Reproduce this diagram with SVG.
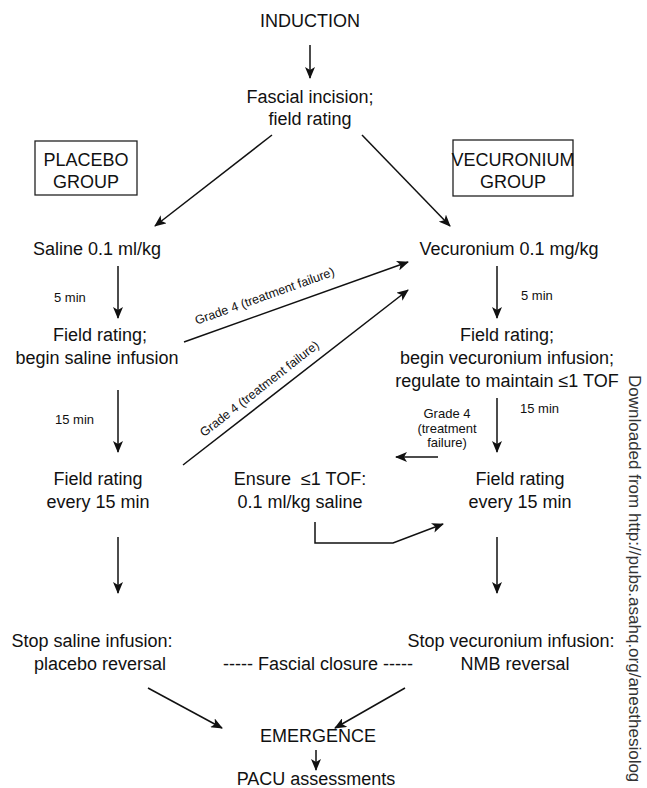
<svg xmlns="http://www.w3.org/2000/svg" width="647" height="788" viewBox="0 0 647 788">
<style>
text{font-family:"Liberation Sans",Arial,sans-serif;fill:#111}
.t{font-size:18px;text-anchor:middle}
.s{font-size:13px}
.g{font-size:12.5px;text-anchor:middle}
.d{font-size:13px;text-anchor:middle}
.c line,.c path{stroke:#111;stroke-width:1.5;fill:none}
.box{fill:none;stroke:#222;stroke-width:1.3}
</style>
<defs>
<marker id="ah" viewBox="0 0 12 10" refX="11" refY="5" markerWidth="12" markerHeight="10" markerUnits="userSpaceOnUse" orient="auto">
<path d="M0,0 L12,5 L0,10 L3,5 Z" fill="#111"/>
</marker>
</defs>
<rect width="647" height="788" fill="#fff"/>

<g id="induction"><text class="t" x="310" y="27">INDUCTION</text></g>
<g id="incision"><text class="t" x="310" y="103">Fascial incision;</text><text class="t" x="310" y="125">field rating</text></g>
<g id="placebo-group"><rect class="box" x="35" y="141" width="102" height="54"/><text class="t" x="86" y="166">PLACEBO</text><text class="t" x="86" y="188">GROUP</text></g>
<g id="vecuronium-group"><rect class="box" x="453" y="140" width="120" height="56"/><text class="t" x="513" y="166">VECURONIUM</text><text class="t" x="513" y="188">GROUP</text></g>
<g id="saline"><text class="t" x="97" y="255">Saline 0.1 ml/kg</text></g>
<g id="vecuronium"><text class="t" x="509" y="255">Vecuronium 0.1 mg/kg</text></g>
<g id="left-rating1"><text class="t" x="100" y="341">Field rating;</text><text class="t" x="97" y="364">begin saline infusion</text></g>
<g id="right-rating1"><text class="t" x="507" y="341">Field rating;</text><text class="t" x="507" y="364">begin vecuronium infusion;</text><text class="t" x="507" y="387">regulate to maintain ≤1 TOF</text></g>
<g id="left-rating2"><text class="t" x="98" y="485">Field rating</text><text class="t" x="98" y="508">every 15 min</text></g>
<g id="ensure"><text class="t" x="300" y="485" style="white-space:pre">Ensure  ≤1 TOF:</text><text class="t" x="300" y="508">0.1 ml/kg saline</text></g>
<g id="right-rating2"><text class="t" x="520" y="485">Field rating</text><text class="t" x="520" y="508">every 15 min</text></g>
<g id="stop-saline"><text class="t" x="92" y="647">Stop saline infusion:</text><text class="t" x="100" y="670">placebo reversal</text></g>
<g id="closure"><text class="t" x="318" y="670">----- Fascial closure -----</text></g>
<g id="stop-vecuronium"><text class="t" x="511" y="647">Stop vecuronium infusion:</text><text class="t" x="515" y="670">NMB reversal</text></g>
<g id="emergence"><text class="t" x="318" y="742">EMERGENCE</text></g>
<g id="pacu"><text class="t" x="316" y="785">PACU assessments</text></g>

<g id="connectors" class="c">
<line x1="310" y1="45" x2="310" y2="78" marker-end="url(#ah)"/>
<line x1="272" y1="135" x2="155" y2="226" marker-end="url(#ah)"/>
<line x1="362" y1="135" x2="450" y2="226" marker-end="url(#ah)"/>
<line x1="118" y1="266" x2="118" y2="318" marker-end="url(#ah)"/>
<line x1="497" y1="266" x2="497" y2="318" marker-end="url(#ah)"/>
<line x1="118" y1="390" x2="118" y2="452" marker-end="url(#ah)"/>
<line x1="497" y1="398" x2="497" y2="452" marker-end="url(#ah)"/>
<line x1="184" y1="342" x2="408" y2="262" marker-end="url(#ah)"/>
<line x1="183" y1="465" x2="408" y2="290" marker-end="url(#ah)"/>
<line x1="438" y1="457" x2="396" y2="457" marker-end="url(#ah)"/>
<path d="M315,522 L315,543 L393,543 L443,524" marker-end="url(#ah)"/>
<line x1="118" y1="537" x2="118" y2="593" marker-end="url(#ah)"/>
<line x1="497" y1="537" x2="497" y2="593" marker-end="url(#ah)"/>
<line x1="148" y1="688" x2="222" y2="728" marker-end="url(#ah)"/>
<line x1="405" y1="688" x2="335" y2="728" marker-end="url(#ah)"/>
<line x1="316" y1="750" x2="316" y2="770" marker-end="url(#ah)"/>
</g>

<g id="labels">
<text class="s" x="54" y="302">5 min</text>
<text class="s" x="521" y="300">5 min</text>
<text class="s" x="55" y="424">15 min</text>
<text class="s" x="520" y="413">15 min</text>
<text class="d" x="447" y="418">Grade 4</text>
<text class="d" x="447" y="433">(treatment</text>
<text class="d" x="447" y="447">failure)</text>
<text class="g" transform="translate(266,300) rotate(-19.7)">Grade 4 (treatment failure)</text>
<text class="g" transform="translate(262,392) rotate(-38)">Grade 4 (treatment failure)</text>
</g>

<g id="watermark"><text transform="translate(629,375) rotate(90)" style="font-size:17px;fill:#333">Downloaded from http://pubs.asahq.org/anesthesiolog</text></g>
</svg>
